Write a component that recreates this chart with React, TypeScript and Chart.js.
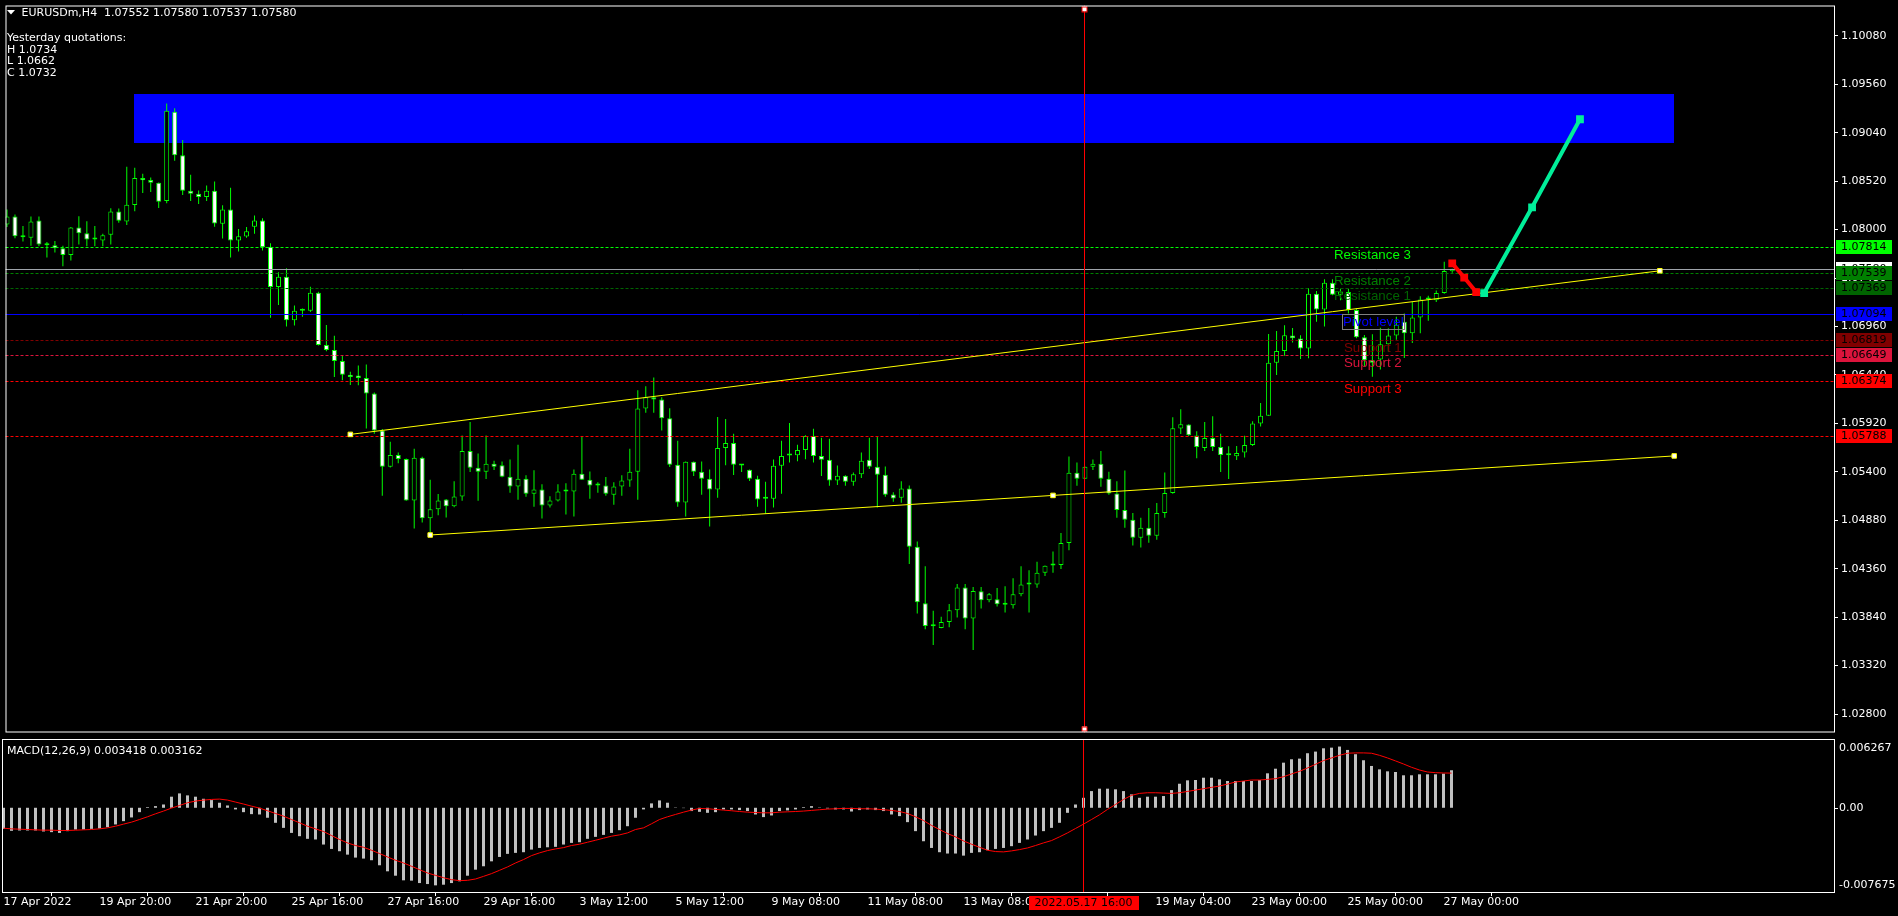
import React, { useEffect, useRef } from 'react';
import { Chart, registerables } from 'chart.js';

Chart.register(...registerables);
Chart.defaults.font.family = 'DejaVu Sans';
Chart.defaults.font.size = 11;
Chart.defaults.color = '#ffffff';

// ---------------- data (H4 bars, index 0 = 17 Apr 2022) ----------------
const OPEN = [
  1.08056,1.08141,1.07932,1.07914,1.08098,1.07844,1.07833,1.07801,1.07727,1.08024,
  1.07960,1.07893,1.07883,1.07946,1.08194,1.08088,1.08265,1.08555,1.08534,1.08502,
  1.08307,1.09266,1.08799,1.08417,1.08385,1.08350,1.08417,1.08063,1.08215,1.07883,
  1.07925,1.08031,1.08098,1.07815,1.07384,1.07493,1.07026,1.07129,1.07129,1.07323,
  1.06761,1.06708,1.06591,1.06442,1.06435,1.06407,1.06240,1.05844,1.05455,1.05582,
  1.05539,1.05093,1.05550,1.04902,1.04998,1.05104,1.05030,1.05136,1.05624,1.05444,
  1.05401,1.05486,1.05472,1.05348,1.05242,1.05327,1.05164,1.05210,1.05040,1.05093,
  1.05189,1.05189,1.05380,1.05316,1.05253,1.05253,1.05154,1.05242,1.05306,1.05401,
  1.06081,1.06201,1.06176,1.05975,1.05476,1.05072,1.05508,1.05401,1.05327,1.05210,
  1.05656,1.05709,1.05472,1.05423,1.05327,1.05111,1.05111,1.05465,1.05575,1.05578,
  1.05635,1.05784,1.05571,1.05529,1.05306,1.05359,1.05295,1.05373,1.05529,1.05455,
  1.05370,1.05157,1.05122,1.05221,1.04595,1.03989,1.03742,1.03724,1.03788,1.03915,
  1.04159,1.03827,1.04117,1.04021,1.04032,1.03975,1.03968,1.04085,1.04191,1.04191,
  1.04318,1.04396,1.04400,1.04637,1.05391,1.05327,1.05455,1.05486,1.05327,1.05168,
  1.04991,1.04885,1.04693,1.04800,1.04715,1.04959,1.05172,1.05865,1.05908,1.05791,
  1.05656,1.05763,1.05667,1.05579,1.05568,1.05607,1.05688,1.05918,1.06003,1.06570,
  1.06697,1.06863,1.06831,1.06725,1.07313,1.07143,1.07430,1.07302,1.07330,1.07136,
  1.06846,1.06598,1.06605,1.06771,1.06863,1.07012,1.06888,1.07058,1.07249,1.07242,
  1.07320,1.07552
];
const HIGH = [
  1.08215,1.08162,1.08038,1.08141,1.08141,1.07868,1.07879,1.07826,1.08028,1.08145,
  1.08091,1.08038,1.07957,1.08229,1.08226,1.08675,1.08665,1.08601,1.08559,1.08505,
  1.09355,1.09302,1.08962,1.08590,1.08420,1.08474,1.08516,1.08261,1.08449,1.08006,
  1.08028,1.08152,1.08123,1.07854,1.07543,1.07585,1.07185,1.07154,1.07387,1.07334,
  1.06977,1.06860,1.06651,1.06474,1.06541,1.06552,1.06251,1.05861,1.05724,1.05607,
  1.05543,1.05649,1.05561,1.05316,1.05161,1.05108,1.05299,1.05791,1.05936,1.05596,
  1.05791,1.05518,1.05511,1.05532,1.05692,1.05363,1.05416,1.05267,1.05139,1.05267,
  1.05278,1.05426,1.05777,1.05405,1.05288,1.05345,1.05288,1.05363,1.05649,1.06276,
  1.06318,1.06414,1.06201,1.06084,1.05734,1.05511,1.05511,1.05511,1.05426,1.05989,
  1.05968,1.05808,1.05476,1.05426,1.05359,1.05295,1.05532,1.05734,1.05925,1.05692,
  1.05794,1.05862,1.05766,1.05755,1.05469,1.05363,1.05394,1.05607,1.05766,1.05777,
  1.05458,1.05182,1.05299,1.05253,1.04651,1.04386,1.03908,1.03844,1.03982,1.04195,
  1.04195,1.04163,1.04163,1.04099,1.04152,1.04173,1.04258,1.04386,1.04343,1.04435,
  1.04396,1.04545,1.04743,1.05564,1.05501,1.05458,1.05532,1.05624,1.05402,1.05299,
  1.05415,1.04959,1.04906,1.05012,1.05065,1.05394,1.05986,1.06071,1.05911,1.05837,
  1.05936,1.05996,1.05809,1.05674,1.05678,1.05787,1.05943,1.06138,1.06881,1.06913,
  1.06973,1.06945,1.06867,1.07373,1.07341,1.07468,1.07468,1.07366,1.07366,1.07153,
  1.06870,1.06877,1.06948,1.06941,1.07065,1.07100,1.07224,1.07284,1.07291,1.07348,
  1.07656,1.07580
];
const LOW = [
  1.08028,1.07907,1.07872,1.07826,1.07822,1.07702,1.07755,1.07607,1.07670,1.07840,
  1.07822,1.07822,1.07822,1.07840,1.08074,1.08049,1.08198,1.08392,1.08403,1.08233,
  1.08283,1.08739,1.08371,1.08307,1.08275,1.08307,1.08031,1.07904,1.07702,1.07766,
  1.07914,1.07957,1.07776,1.07054,1.07192,1.06959,1.06970,1.07065,1.07115,1.06757,
  1.06694,1.06417,1.06382,1.06332,1.06329,1.05865,1.05808,1.05143,1.05447,1.05493,
  1.05090,1.04793,1.04856,1.04729,1.04934,1.04909,1.05019,1.05090,1.05398,1.05090,
  1.05324,1.05419,1.05341,1.05175,1.05101,1.05132,1.05026,1.04899,1.05016,1.05083,
  1.04941,1.04920,1.05313,1.05111,1.05175,1.05143,1.05047,1.05143,1.05239,1.05101,
  1.06035,1.06035,1.05844,1.05451,1.05026,1.04920,1.05355,1.05154,1.04814,1.05122,
  1.05472,1.05366,1.05398,1.05302,1.05026,1.04952,1.05016,1.05164,1.05501,1.05515,
  1.05536,1.05501,1.05355,1.05250,1.05260,1.05250,1.05250,1.05334,1.05430,1.05016,
  1.05132,1.05079,1.05069,1.04410,1.03880,1.03710,1.03540,1.03721,1.03731,1.03837,
  1.03710,1.03487,1.03933,1.04000,1.03954,1.03890,1.03933,1.04064,1.03890,1.04156,
  1.04283,1.04318,1.04357,1.04559,1.05250,1.05324,1.05419,1.05239,1.05154,1.04906,
  1.04800,1.04609,1.04587,1.04640,1.04672,1.04906,1.05165,1.05805,1.05784,1.05547,
  1.05625,1.05625,1.05398,1.05324,1.05526,1.05554,1.05678,1.05887,1.06003,1.06439,
  1.06647,1.06789,1.06612,1.06619,1.07012,1.06959,1.07295,1.07242,1.07100,1.06835,
  1.06534,1.06421,1.06499,1.06693,1.06817,1.06623,1.06782,1.06888,1.07023,1.07224,
  1.07313,1.07537
];
const CLOSE = [
  1.08141,1.07929,1.07918,1.08088,1.07840,1.07833,1.07801,1.07727,1.08024,1.07960,
  1.07893,1.07893,1.07939,1.08194,1.08095,1.08268,1.08555,1.08530,1.08502,1.08300,
  1.09277,1.08799,1.08417,1.08385,1.08350,1.08417,1.08067,1.08215,1.07883,1.07929,
  1.07982,1.08098,1.07812,1.07384,1.07493,1.07026,1.07129,1.07129,1.07323,1.06761,
  1.06708,1.06591,1.06442,1.06417,1.06407,1.06240,1.05844,1.05455,1.05582,1.05539,
  1.05093,1.05550,1.04902,1.04998,1.05093,1.05030,1.05136,1.05624,1.05444,1.05401,
  1.05486,1.05455,1.05348,1.05242,1.05327,1.05164,1.05210,1.05040,1.05093,1.05189,
  1.05189,1.05380,1.05316,1.05253,1.05253,1.05164,1.05242,1.05306,1.05401,1.06081,
  1.06201,1.06176,1.05975,1.05476,1.05072,1.05508,1.05401,1.05327,1.05210,1.05656,
  1.05709,1.05476,1.05469,1.05327,1.05104,1.05111,1.05465,1.05571,1.05578,1.05635,
  1.05784,1.05571,1.05529,1.05306,1.05359,1.05295,1.05373,1.05518,1.05455,1.05370,
  1.05154,1.05115,1.05221,1.04595,1.04000,1.03745,1.03742,1.03788,1.03915,1.04159,
  1.03827,1.04120,1.04021,1.04085,1.03979,1.03972,1.04085,1.04191,1.04191,1.04318,
  1.04393,1.04400,1.04637,1.05391,1.05327,1.05455,1.05486,1.05327,1.05168,1.04991,
  1.04885,1.04693,1.04800,1.04715,1.04959,1.05172,1.05869,1.05911,1.05794,1.05667,
  1.05763,1.05667,1.05582,1.05579,1.05603,1.05688,1.05918,1.06003,1.06570,1.06697,
  1.06867,1.06835,1.06725,1.07313,1.07143,1.07430,1.07302,1.07337,1.07136,1.06846,
  1.06598,1.06570,1.06771,1.06863,1.06980,1.06888,1.07058,1.07249,1.07256,1.07320,
  1.07557,1.07580
];
const MACD_HIST = [
  -0.00192,-0.00210,-0.00207,-0.00207,-0.00207,-0.00216,-0.00222,-0.00229,-0.00213,-0.00198,
  -0.00198,-0.00192,-0.00189,-0.00177,-0.00152,-0.00122,-0.00088,-0.00040,0.00006,0.00015,
  0.00030,0.00101,0.00131,0.00113,0.00101,0.00082,0.00070,0.00046,0.00021,-0.00015,
  -0.00040,-0.00058,-0.00061,-0.00091,-0.00137,-0.00183,-0.00229,-0.00259,-0.00283,-0.00289,
  -0.00335,-0.00375,-0.00396,-0.00427,-0.00454,-0.00463,-0.00478,-0.00524,-0.00579,-0.00619,
  -0.00661,-0.00664,-0.00686,-0.00695,-0.00707,-0.00701,-0.00686,-0.00670,-0.00619,-0.00564,
  -0.00533,-0.00488,-0.00448,-0.00420,-0.00411,-0.00405,-0.00381,-0.00366,-0.00360,-0.00356,
  -0.00335,-0.00320,-0.00314,-0.00283,-0.00265,-0.00247,-0.00229,-0.00204,-0.00168,-0.00091,
  -0.00015,0.00040,0.00067,0.00046,0.00003,-0.00003,-0.00030,-0.00037,-0.00046,-0.00040,
  -0.00015,-0.00015,-0.00021,-0.00030,-0.00061,-0.00085,-0.00070,-0.00030,-0.00024,-0.00015,
  0.00006,0.00015,0.00003,-0.00006,-0.00015,-0.00015,-0.00034,-0.00021,-0.00015,-0.00021,
  -0.00030,-0.00061,-0.00076,-0.00131,-0.00213,-0.00305,-0.00366,-0.00405,-0.00417,-0.00417,
  -0.00436,-0.00411,-0.00405,-0.00387,-0.00375,-0.00366,-0.00350,-0.00320,-0.00289,-0.00253,
  -0.00213,-0.00183,-0.00137,-0.00046,0.00030,0.00091,0.00152,0.00174,0.00174,0.00168,
  0.00152,0.00122,0.00091,0.00101,0.00101,0.00107,0.00161,0.00219,0.00250,0.00253,
  0.00274,0.00274,0.00259,0.00244,0.00244,0.00244,0.00244,0.00253,0.00314,0.00356,
  0.00411,0.00442,0.00448,0.00497,0.00512,0.00542,0.00548,0.00558,0.00527,0.00488,
  0.00433,0.00381,0.00350,0.00332,0.00326,0.00296,0.00296,0.00305,0.00305,0.00305,
  0.00311,0.00342
];
const MACD_SIGNAL = [
  -0.00186,-0.00192,-0.00195,-0.00198,-0.00201,-0.00204,-0.00204,-0.00207,-0.00207,-0.00204,
  -0.00201,-0.00198,-0.00192,-0.00183,-0.00168,-0.00149,-0.00131,-0.00107,-0.00082,-0.00055,
  -0.00030,-0.00003,0.00021,0.00046,0.00061,0.00070,0.00076,0.00079,0.00070,0.00052,
  0.00034,0.00015,-0.00003,-0.00027,-0.00052,-0.00076,-0.00107,-0.00137,-0.00168,-0.00192,
  -0.00216,-0.00253,-0.00289,-0.00320,-0.00344,-0.00360,-0.00387,-0.00417,-0.00448,-0.00478,
  -0.00503,-0.00533,-0.00564,-0.00594,-0.00616,-0.00637,-0.00655,-0.00664,-0.00661,-0.00649,
  -0.00625,-0.00600,-0.00570,-0.00539,-0.00503,-0.00472,-0.00436,-0.00411,-0.00390,-0.00375,
  -0.00363,-0.00344,-0.00332,-0.00314,-0.00296,-0.00277,-0.00259,-0.00247,-0.00229,-0.00198,
  -0.00183,-0.00146,-0.00107,-0.00082,-0.00061,-0.00040,-0.00021,-0.00006,-0.00009,-0.00015,
  -0.00021,-0.00027,-0.00034,-0.00040,-0.00043,-0.00046,-0.00046,-0.00040,-0.00037,-0.00034,
  -0.00030,-0.00024,-0.00018,-0.00012,-0.00009,-0.00006,-0.00006,-0.00009,-0.00009,-0.00012,
  -0.00018,-0.00024,-0.00034,-0.00052,-0.00082,-0.00116,-0.00161,-0.00198,-0.00235,-0.00265,
  -0.00302,-0.00332,-0.00360,-0.00387,-0.00399,-0.00402,-0.00393,-0.00381,-0.00366,-0.00344,
  -0.00320,-0.00299,-0.00265,-0.00229,-0.00189,-0.00149,-0.00107,-0.00064,-0.00015,0.00030,
  0.00076,0.00113,0.00131,0.00137,0.00137,0.00134,0.00131,0.00137,0.00149,0.00161,
  0.00174,0.00186,0.00198,0.00216,0.00235,0.00244,0.00253,0.00253,0.00259,0.00265,
  0.00283,0.00308,0.00332,0.00363,0.00396,0.00430,0.00454,0.00478,0.00497,0.00500,
  0.00500,0.00497,0.00478,0.00454,0.00427,0.00399,0.00369,0.00344,0.00326,0.00320,
  0.00317,0.00316
];

const PRICE_TICKS = [1.028, 1.0332, 1.0384, 1.0436, 1.0488, 1.054, 1.0592, 1.0644, 1.0696, 1.0748, 1.08, 1.0852, 1.0904, 1.0956, 1.1008];
const TIME_TICK_BARS = [0, 12, 24, 36, 48, 60, 72, 84, 96, 108, 120, 132, 144, 156, 168, 180];
const TIME_LABELS = ['17 Apr 2022', '19 Apr 20:00', '21 Apr 20:00', '25 Apr 16:00', '27 Apr 16:00', '29 Apr 16:00', '3 May 12:00', '5 May 12:00', '9 May 08:00', '11 May 08:00', '13 May 08:00', '17 May 04:00', '19 May 04:00', '23 May 00:00', '25 May 00:00', '27 May 00:00'];

const PRICE_MIN = 1.02602;
const PRICE_MAX = 1.10406;
const MACD_MIN = -0.007675;
const MACD_MAX = 0.006267;
const BAR_MIN = -0.1875;
const BAR_MAX = 228.8125;

const LEVEL_NAMES = ['Resistance 3', 'Resistance 2', 'Resistance 1', 'Pivot level', 'Support 1', 'Support 2', 'Support 3'];
const LEVEL_PRICES = [1.07814, 1.07539, 1.07369, 1.07094, 1.06819, 1.06649, 1.06374];
const LEVEL_LABEL_BARS = [166.2, 166.2, 166.2, 167.3, 167.5, 167.5, 167.5];
const EXTRA_LEVEL_PRICE = 1.05788;
const BID_PRICE = 1.0758;

const ZONE_BARS = [15.95, 208.8];
const ZONE_PRICES = [1.09461, 1.08935];
const UPPER_TREND_BARS = [43, 207];
const UPPER_TREND_PRICES = [1.05802, 1.07558];
const LOWER_TREND_BARS = [53, 131, 208.8];
const LOWER_TREND_PRICES = [1.04722, 1.05147, 1.05571];
const DOWN_PATH_BARS = [181, 182.5, 184];
const DOWN_PATH_PRICES = [1.07638, 1.07486, 1.0733];
const UP_PATH_BARS = [185, 191, 197];
const UP_PATH_PRICES = [1.07319, 1.0824, 1.09185];

const MARK_BAR = 135;
const MARK_LABEL = '2022.05.17 16:00';
const SYMBOL_LINE = 'EURUSDm,H4  1.07552 1.07580 1.07537 1.07580';
const YESTERDAY_LINES = ['Yesterday quotations:', 'H 1.0734', 'L 1.0662', 'C 1.0732'];
const MACD_TITLE = 'MACD(12,26,9) 0.003418 0.003162';
const MACD_AXIS_VALUES = [0.006267, 0, -0.007675];
const MACD_AXIS_LABELS = ['0.006267', '0.00', '-0.007675'];

// ---------------- styles ----------------
const UI_FONT = '11px "DejaVu Sans"';
const OBJ_FONT = '13.3px "Liberation Sans"';
const CANDLE_LINE = '#00ff00';
const BULL_FILL = '#000000';
const BEAR_FILL = '#ffffff';
const TREND_COLOR = '#ffff00';
const ZONE_COLOR = '#0000ff';
const DOWN_PATH_COLOR = '#ff0000';
const UP_PATH_COLOR = '#00ee99';
const BID_LINE_COLOR = '#9ea4aa';
const MARK_COLOR = '#ff0000';
const HIST_COLOR = '#c0c0c0';
const SIGNAL_COLOR = '#ff0000';
const LEVEL_COLORS = ['#00ff00', '#008000', '#006400', '#0000ff', '#800000', '#dc143c', '#ff0000'];
const LEVEL_DASHED = [true, true, true, false, true, true, true];
const EXTRA_LEVEL_COLOR = '#ff0000';
const PIVOT_INDEX = 3;

const toXY = (xs: number[], ys: number[]) => xs.map((x, i) => ({ x, y: ys[i] }));

function priceBox(ctx: any, a: any, yPix: number, fill: string, text: string) {
  const yy = Math.round(yPix);
  ctx.fillStyle = fill;
  ctx.fillRect(a.right + 2, yy - 7, 56, 14);
  ctx.fillStyle = '#000000';
  ctx.font = UI_FONT;
  ctx.textAlign = 'left';
  ctx.textBaseline = 'middle';
  ctx.fillText(text, a.right + 7, yy + 0.5);
}

function vMark(ctx: any, a: any, xs: any) {
  const x = Math.floor(xs.getPixelForValue(MARK_BAR)) + 0.5;
  ctx.save();
  ctx.strokeStyle = MARK_COLOR;
  ctx.lineWidth = 1;
  ctx.setLineDash([]);
  ctx.beginPath();
  ctx.moveTo(x, a.top);
  ctx.lineTo(x, a.bottom);
  ctx.stroke();
  ctx.restore();
  return x;
}

function buildMain(canvas: HTMLCanvasElement) {
  const idx = OPEN.map((_, i) => i);
  const overlay = {
    id: 'mainOverlay',
    beforeDatasetsDraw(chart: any) {
      const { ctx, chartArea: a, scales } = chart;
      const x1 = scales.x.getPixelForValue(ZONE_BARS[0]);
      const x2 = scales.x.getPixelForValue(ZONE_BARS[1]);
      const y1 = scales.y.getPixelForValue(ZONE_PRICES[0]);
      const y2 = scales.y.getPixelForValue(ZONE_PRICES[1]);
      ctx.save();
      ctx.beginPath();
      ctx.rect(a.left, a.top, a.right - a.left, a.bottom - a.top);
      ctx.clip();
      ctx.fillStyle = ZONE_COLOR;
      ctx.fillRect(Math.round(x1), Math.round(y1), Math.round(x2 - x1), Math.round(y2 - y1));
      ctx.restore();
    },
    afterDatasetDraw(chart: any, args: any) {
      if (args.index !== 1) return;
      const { ctx, chartArea: a, scales } = chart;
      const hline = (price: number, color: string, dashed: boolean) => {
        const yy = Math.round(scales.y.getPixelForValue(price)) + 0.5;
        ctx.strokeStyle = color;
        ctx.lineWidth = 1;
        ctx.setLineDash(dashed ? [3, 2] : []);
        ctx.beginPath();
        ctx.moveTo(a.left, yy);
        ctx.lineTo(a.right, yy);
        ctx.stroke();
      };
      ctx.save();
      hline(EXTRA_LEVEL_PRICE, EXTRA_LEVEL_COLOR, true);
      LEVEL_PRICES.forEach((p, k) => hline(p, LEVEL_COLORS[k], LEVEL_DASHED[k]));
      hline(BID_PRICE, BID_LINE_COLOR, false);
      ctx.restore();
    },
    afterDatasetsDraw(chart: any) {
      const { ctx, chartArea: a, scales } = chart;
      ctx.save();
      ctx.font = OBJ_FONT;
      ctx.textAlign = 'left';
      ctx.textBaseline = 'alphabetic';
      LEVEL_NAMES.forEach((name, k) => {
        const tx = Math.round(scales.x.getPixelForValue(LEVEL_LABEL_BARS[k]));
        const ly = Math.round(scales.y.getPixelForValue(LEVEL_PRICES[k]));
        ctx.fillStyle = LEVEL_COLORS[k];
        ctx.fillText(name, tx, ly + 12);
        if (k === PIVOT_INDEX) {
          const w = ctx.measureText(name).width;
          ctx.strokeStyle = '#808080';
          ctx.lineWidth = 1;
          ctx.strokeRect(tx - 0.5, ly + 0.5, Math.round(w) + 1, 15);
        }
      });
      ctx.restore();
      const mx = vMark(ctx, a, scales.x);
      ctx.save();
      ctx.fillStyle = '#ffffff';
      ctx.strokeStyle = MARK_COLOR;
      ctx.fillRect(mx - 2.5, a.top + 1, 5, 5);
      ctx.strokeRect(mx - 2.5, a.top + 1.5, 5, 5);
      ctx.fillRect(mx - 2.5, a.bottom - 6, 5, 5);
      ctx.strokeRect(mx - 2.5, a.bottom - 5.5, 5, 4);
      ctx.restore();
    },
    afterDraw(chart: any) {
      const { ctx, chartArea: a, scales } = chart;
      ctx.save();
      ctx.strokeStyle = '#ffffff';
      ctx.lineWidth = 1;
      ctx.setLineDash([]);
      ctx.strokeRect(a.left + 0.5, a.top + 0.5, a.right - a.left, a.bottom - a.top - 1);
      // price boxes on the axis
      priceBox(ctx, a, scales.y.getPixelForValue(BID_PRICE), '#ffffff', BID_PRICE.toFixed(5));
      priceBox(ctx, a, scales.y.getPixelForValue(EXTRA_LEVEL_PRICE), EXTRA_LEVEL_COLOR, EXTRA_LEVEL_PRICE.toFixed(5));
      LEVEL_PRICES.forEach((p, k) => priceBox(ctx, a, scales.y.getPixelForValue(p), LEVEL_COLORS[k], p.toFixed(5)));
      // header texts
      ctx.fillStyle = '#ffffff';
      ctx.beginPath();
      ctx.moveTo(7, 10);
      ctx.lineTo(15, 10);
      ctx.lineTo(11, 14.5);
      ctx.closePath();
      ctx.fill();
      ctx.font = UI_FONT;
      ctx.textAlign = 'left';
      ctx.textBaseline = 'middle';
      ctx.fillText(SYMBOL_LINE, 21.5, 13);
      YESTERDAY_LINES.forEach((t, k) => ctx.fillText(t, 7, 38.5 + k * 11.5));
      ctx.restore();
    }
  };

  return new Chart(canvas, {
    type: 'bar',
    data: {
      datasets: [
        {
          type: 'bar', data: idx.map(i => ({ x: i, y: [LOW[i], HIGH[i]] })),
          backgroundColor: CANDLE_LINE, borderWidth: 0, grouped: false,
          barThickness: 1, maxBarThickness: 1, inflateAmount: 0, order: 5
        },
        {
          type: 'bar', data: idx.map(i => ({ x: i, y: [OPEN[i], CLOSE[i]] })),
          backgroundColor: idx.map(i => (CLOSE[i] < OPEN[i] ? BEAR_FILL : BULL_FILL)),
          borderColor: CANDLE_LINE, borderWidth: 1, borderSkipped: false, grouped: false,
          barThickness: 5, maxBarThickness: 5, minBarLength: 2, inflateAmount: 0, order: 4
        },
        {
          type: 'line', data: toXY(UPPER_TREND_BARS, UPPER_TREND_PRICES),
          borderColor: TREND_COLOR, borderWidth: 1, fill: false, tension: 0,
          pointStyle: 'rect', pointRadius: 3.2, pointBackgroundColor: '#ffffff',
          pointBorderColor: TREND_COLOR, pointBorderWidth: 1, order: 3
        },
        {
          type: 'line', data: toXY(LOWER_TREND_BARS, LOWER_TREND_PRICES),
          borderColor: TREND_COLOR, borderWidth: 1, fill: false, tension: 0,
          pointStyle: 'rect', pointRadius: 3.2, pointBackgroundColor: '#ffffff',
          pointBorderColor: TREND_COLOR, pointBorderWidth: 1, order: 3
        },
        {
          type: 'line', data: toXY(DOWN_PATH_BARS, DOWN_PATH_PRICES),
          borderColor: DOWN_PATH_COLOR, borderWidth: 4, fill: false, tension: 0,
          pointStyle: 'rect', pointRadius: 5.5, pointBackgroundColor: DOWN_PATH_COLOR,
          pointBorderWidth: 0, order: 2
        },
        {
          type: 'line', data: toXY(UP_PATH_BARS, UP_PATH_PRICES),
          borderColor: UP_PATH_COLOR, borderWidth: 4, fill: false, tension: 0,
          pointStyle: 'rect', pointRadius: 5.5, pointBackgroundColor: UP_PATH_COLOR,
          pointBorderWidth: 0, order: 1
        }
      ]
    } as any,
    options: {
      animation: false,
      responsive: false,
      devicePixelRatio: 1,
      events: [],
      layout: { padding: { left: 2, top: 2, right: 0, bottom: 1 } },
      plugins: { legend: { display: false }, tooltip: { enabled: false } },
      scales: {
        x: { type: 'linear', min: BAR_MIN, max: BAR_MAX, display: false, offset: false, bounds: 'data' },
        y: {
          type: 'linear', position: 'right', min: PRICE_MIN, max: PRICE_MAX, beginAtZero: false, bounds: 'data',
          afterFit: (s: any) => { s.width = 64; s.paddingTop = 0; s.paddingBottom = 0; },
          afterBuildTicks: (s: any) => { s.ticks = PRICE_TICKS.map(v => ({ value: v })); },
          ticks: {
            color: '#ffffff', font: { family: 'DejaVu Sans', size: 11 }, padding: 3, autoSkip: false,
            callback: (v: any) => Number(v).toFixed(5)
          },
          grid: { display: true, drawOnChartArea: false, drawTicks: true, tickLength: 4, color: '#ffffff' },
          border: { display: false }
        }
      }
    } as any,
    plugins: [overlay]
  });
}

function buildMacd(canvas: HTMLCanvasElement) {
  const idx = MACD_HIST.map((_, i) => i);
  const overlay = {
    id: 'macdOverlay',
    afterDatasetsDraw(chart: any) {
      const { ctx, chartArea: a, scales } = chart;
      vMark(ctx, a, scales.x);
    },
    afterDraw(chart: any) {
      const { ctx, chartArea: a, scales } = chart;
      ctx.save();
      ctx.strokeStyle = '#ffffff';
      ctx.lineWidth = 1;
      ctx.strokeRect(a.left + 0.5, a.top + 0.5, a.right - a.left, a.bottom - a.top);
      ctx.font = UI_FONT;
      ctx.textAlign = 'left';
      ctx.textBaseline = 'middle';
      ctx.fillStyle = '#ffffff';
      MACD_AXIS_VALUES.forEach((v, k) => {
        const py = scales.y.getPixelForValue(v);
        const ly = Math.min(Math.max(py, a.top + 9), a.bottom - 7);
        ctx.fillText(MACD_AXIS_LABELS[k], a.right + 5, ly);
        if (v === 0) {
          ctx.beginPath();
          ctx.moveTo(a.right, Math.round(py) + 0.5);
          ctx.lineTo(a.right + 4, Math.round(py) + 0.5);
          ctx.stroke();
        }
      });
      ctx.fillText(MACD_TITLE, 7, a.top + 12);
      // date label of the vertical line
      const mx = Math.floor(scales.x.getPixelForValue(MARK_BAR)) + 0.5;
      ctx.fillStyle = MARK_COLOR;
      ctx.fillRect(Math.round(mx - 55), a.bottom + 4, 110, 14);
      ctx.fillStyle = '#000000';
      ctx.textAlign = 'center';
      ctx.fillText(MARK_LABEL, mx, a.bottom + 11.5);
      ctx.restore();
    }
  };

  return new Chart(canvas, {
    type: 'bar',
    data: {
      datasets: [
        {
          type: 'bar', data: idx.map(i => ({ x: i, y: MACD_HIST[i] })),
          backgroundColor: HIST_COLOR, borderWidth: 0, grouped: false,
          barThickness: 3, maxBarThickness: 3, inflateAmount: 0, order: 2
        },
        {
          type: 'line', data: idx.map(i => ({ x: i, y: MACD_SIGNAL[i] })),
          borderColor: SIGNAL_COLOR, borderWidth: 1, pointRadius: 0, fill: false, tension: 0, order: 1
        }
      ]
    } as any,
    options: {
      animation: false,
      responsive: false,
      devicePixelRatio: 1,
      events: [],
      layout: { padding: { left: 2, top: 1, right: 0, bottom: 0 } },
      plugins: { legend: { display: false }, tooltip: { enabled: false } },
      scales: {
        x: {
          type: 'linear', position: 'bottom', min: BAR_MIN, max: BAR_MAX, offset: false, bounds: 'data',
          afterFit: (s: any) => { s.height = 24; s.paddingLeft = 0; s.paddingRight = 0; },
          afterBuildTicks: (s: any) => { s.ticks = TIME_TICK_BARS.map(v => ({ value: v })); },
          ticks: {
            color: '#ffffff', font: { family: 'DejaVu Sans', size: 11 }, padding: 0, align: 'start',
            maxRotation: 0, minRotation: 0, autoSkip: false,
            callback: (_v: any, i: number) => TIME_LABELS[i] ?? ''
          },
          grid: { display: true, drawOnChartArea: false, drawTicks: true, tickLength: 4, color: '#ffffff' },
          border: { display: false }
        },
        y: {
          type: 'linear', position: 'right', min: MACD_MIN, max: MACD_MAX, bounds: 'data',
          afterFit: (s: any) => { s.width = 64; s.paddingTop = 0; s.paddingBottom = 0; },
          ticks: { display: false },
          grid: { display: false },
          border: { display: false }
        }
      }
    } as any,
    plugins: [overlay]
  });
}

export default function App() {
  const mainRef = useRef<HTMLCanvasElement>(null);
  const macdRef = useRef<HTMLCanvasElement>(null);
  useEffect(() => {
    const charts: Chart[] = [];
    if (mainRef.current) charts.push(buildMain(mainRef.current));
    if (macdRef.current) charts.push(buildMacd(macdRef.current));
    return () => charts.forEach(c => c.destroy());
  }, []);
  return (
    <div style={{ position: 'fixed', left: 0, top: 0, width: 1898, height: 916, background: '#000000', overflow: 'hidden' }}>
      <canvas ref={mainRef} width={1898} height={738} style={{ position: 'absolute', left: 0, top: 0, width: 1898, height: 738, display: 'block' }} />
      <canvas ref={macdRef} width={1898} height={178} style={{ position: 'absolute', left: 0, top: 738, width: 1898, height: 178, display: 'block' }} />
    </div>
  );
}
